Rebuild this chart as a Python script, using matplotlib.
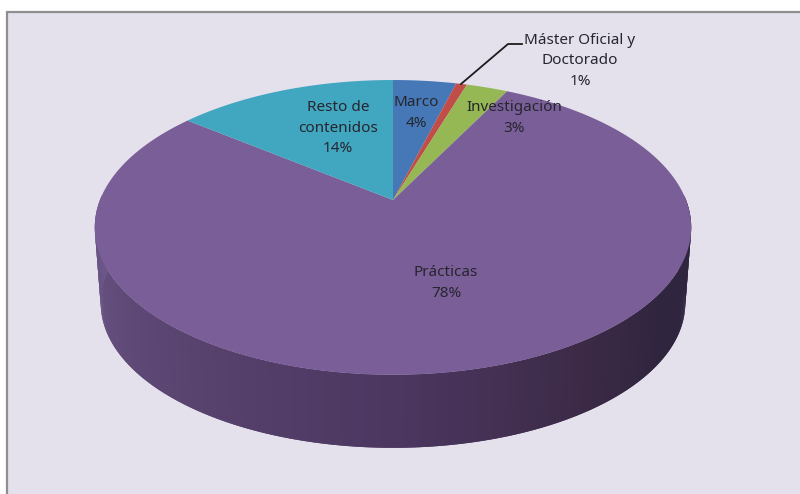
import numpy as np
import matplotlib
matplotlib.use("Agg")
import matplotlib.pyplot as plt
from matplotlib.colors import LinearSegmentedColormap
from matplotlib.patches import Rectangle

categories = ["Marco", "Máster Oficial y\nDoctorado", "Investigación", "Prácticas", "Resto de\ncontenidos"]
values = [4.1, 0.7, 2.7, 78.2, 14.3]
colors = ["#4678b8", "#c14d48", "#96b854", "#7a5e98", "#41a6bf"]

CX, CY, RX, RY, K = 393, 200, 293, 142.3, 0.186
DEPTH, SHRINK = 76.5, 0.98


def project(theta, r=1.0, scale=1.0, dy=0.0):
    """Clockwise angle from 12 o'clock on a unit disc -> perspective pixels."""
    u, v = r * np.sin(theta), r * np.cos(theta)
    w = 1 + K * v
    return CX + scale * RX * u / w, CY + dy + scale * RY * (-v) / w


fig = plt.figure(figsize=(8, 4.94), dpi=100, facecolor="white")
ax = fig.add_axes([0, 0, 1, 1])
ax.set_xlim(0, 800)
ax.set_ylim(494, 0)
ax.axis("off")
ax.add_patch(Rectangle((6.5, 12), 800, 490, fc="#e4e1ec", ec="#8f8f8f", lw=1.6, zorder=0))

# side wall (visible part of the largest slice)
side = LinearSegmentedColormap.from_list(
    "side", [(0, "#6c5889"), (0.25, "#5c4673"), (0.5, "#4b3760"),
             (0.68, "#3c2a47"), (0.8, "#30253e"), (1, "#2f2640")])
th = np.linspace(np.pi * 0.49, np.pi * 1.51, 260)
# draw from the right edge leftwards, each strip overlapping the next to avoid seams
for a, b in zip(th[:-1], th[1:]):
    seg = np.array([a, min(b + 0.012, th[-1])])
    x1, y1 = project(seg)
    x2, y2 = project(seg, scale=SHRINK, dy=DEPTH)
    c = side(1 - (0.5 * (a + b) - th[0]) / (th[-1] - th[0]))
    ax.fill(np.r_[x1, x2[::-1]], np.r_[y1, y2[::-1]], color=c, lw=0, zorder=1)

# top face, slices derived from the values
fr = np.cumsum([0] + values) / sum(values) * 2 * np.pi
for i, col in enumerate(colors):
    t = np.linspace(fr[i], fr[i + 1], 200)
    x, y = project(t)
    ax.fill(np.r_[CX, x], np.r_[CY, y], color=col, lw=0, zorder=2)

ax.plot([461, 508, 522], [84, 44, 44], color="#1c1c1c", lw=1.3, zorder=3)

FONT = "Noto Sans"
SIZE = 11
positions = [(416, 113), (580, 61), (514, 118), (446, 283), (338, 128)]
for cat, val, (px, py) in zip(categories, values, positions):
    ax.text(px, py, f"{cat}\n{val:.0f}%", ha="center", va="center", family=FONT,
            fontsize=SIZE, color="#26262e", linespacing=1.5, zorder=4)

fig.savefig("out.png", dpi=100)
